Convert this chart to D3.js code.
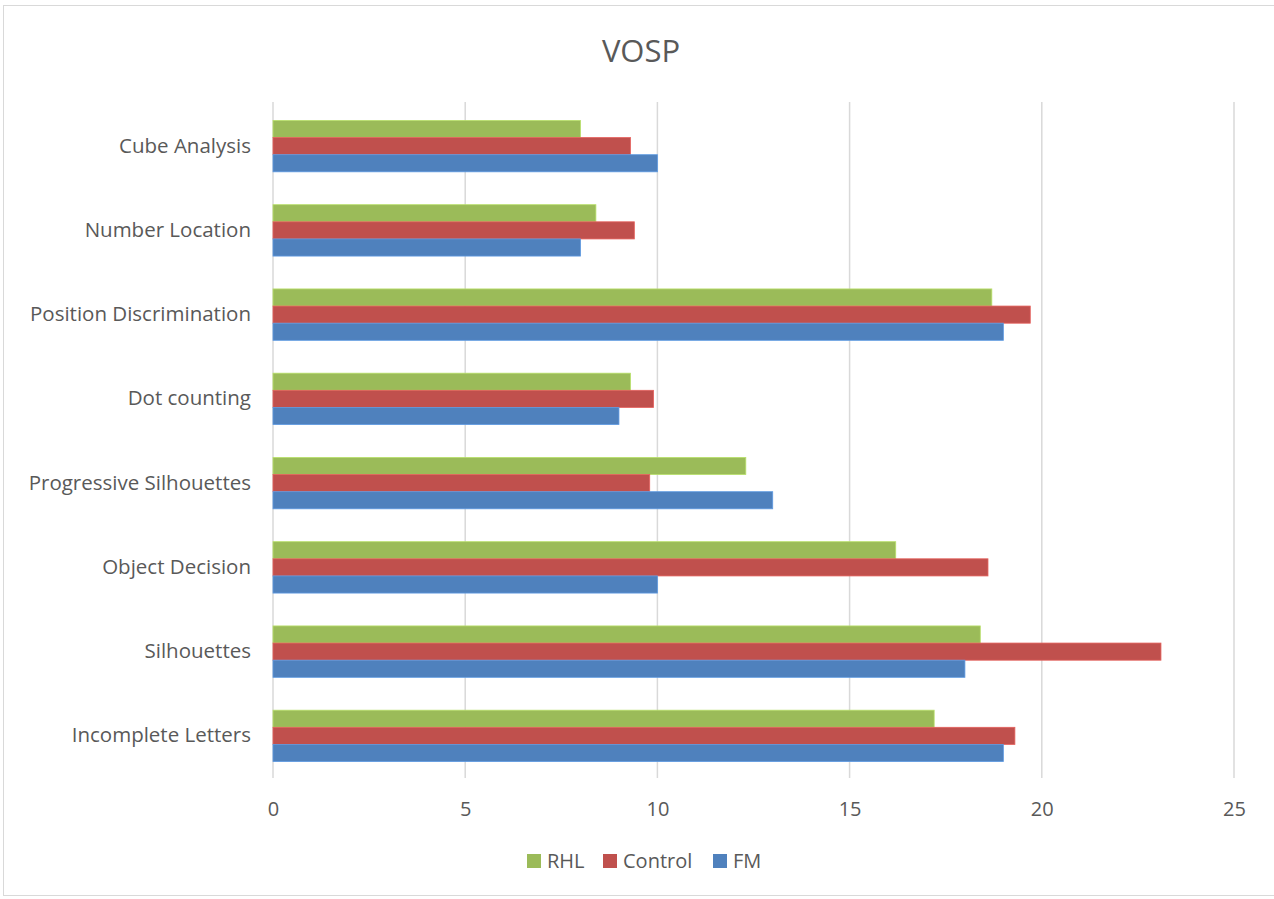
<!DOCTYPE html>
<html>
<head>
<meta charset="utf-8">
<script src="https://cdn.jsdelivr.net/npm/d3@7"></script>
<style>
  html, body { margin: 0; padding: 0; background: #fff; }
  svg text { font-family: "Open Sans", "Liberation Sans", sans-serif; fill: #595959; }
</style>
</head>
<body>
<svg id="chart" width="1274" height="899"></svg>
<script>
// VOSP subtest scores per group
const categories = [
  "Cube Analysis", "Number Location", "Position Discrimination", "Dot counting",
  "Progressive Silhouettes", "Object Decision", "Silhouettes", "Incomplete Letters"
];
const seriesNames = ["RHL", "Control", "FM"];
const rhl     = [8.0, 8.4, 18.7, 9.3, 12.3, 16.2, 18.4, 17.2];
const control = [9.3, 9.4, 19.7, 9.9, 9.8, 18.6, 23.1, 19.3];
const fm      = [10.0, 8.0, 19.0, 9.0, 13.0, 10.0, 18.0, 19.0];
const xTicks  = [0, 5, 10, 15, 20, 25];
const colors  = ["#9BBB59", "#C0504D", "#4F81BD"];

const seriesValues = [rhl, control, fm];
const svg = d3.select("#chart");

// outer chart frame
svg.append("rect")
  .attr("x", 3.5).attr("y", 5.5).attr("width", 1280).attr("height", 890)
  .attr("fill", "#fff").attr("stroke", "#d9d9d9").attr("stroke-width", 1);

const plot = { left: 273, right: 1234, top: 104, bottom: 778 };

const x = d3.scaleLinear().domain([0, 25]).range([plot.left, plot.right]);
const y = d3.scaleBand().domain(categories).range([plot.top, plot.bottom]).paddingInner(0.39).paddingOuter(0.195);
const ySub = d3.scaleBand().domain(seriesNames).range([0, y.bandwidth()]);

// title
svg.append("text")
  .attr("x", 641).attr("y", 62)
  .attr("text-anchor", "middle")
  .style("font-size", "31px")
  .text("VOSP");

// vertical gridlines
svg.append("g")
  .selectAll("line")
  .data(xTicks)
  .join("line")
  .attr("x1", d => x(d)).attr("x2", d => x(d))
  .attr("y1", plot.top - 2).attr("y2", plot.bottom)
  .attr("stroke", "#d9d9d9").attr("stroke-width", 1.5);

// bars
const groups = svg.append("g")
  .selectAll("g")
  .data(categories)
  .join("g")
  .attr("transform", d => `translate(0,${y(d)})`);

groups.selectAll("rect")
  .data((c, i) => seriesNames.map((s, j) => ({ s, v: seriesValues[j][i], color: colors[j] })))
  .join("rect")
  .attr("x", x(0))
  .attr("y", d => ySub(d.s))
  .attr("width", d => x(d.v) - x(0))
  .attr("height", ySub.bandwidth())
  .attr("fill", d => d.color)
  .attr("stroke", d => d3.color(d.color).brighter(0.5))
  .attr("stroke-width", 0.8);

// category labels
const yAxis = d3.axisLeft(y).tickSize(0).tickPadding(22);
const ya = svg.append("g").attr("transform", `translate(${plot.left},0)`).call(yAxis);
ya.select(".domain").remove();
ya.selectAll("text").style("font-size", "20.5px").attr("fill", "#595959");

// value axis labels
const xAxis = d3.axisBottom(x).tickValues(xTicks).tickSize(0).tickPadding(24);
const xa = svg.append("g").attr("transform", `translate(0,${plot.bottom})`).call(xAxis);
xa.select(".domain").remove();
xa.selectAll("text").style("font-size", "20px").attr("fill", "#595959");

// legend
const legendItems = [
  { name: "RHL", color: colors[0], x: 527 },
  { name: "Control", color: colors[1], x: 603 },
  { name: "FM", color: colors[2], x: 713 }
];
const lg = svg.append("g").selectAll("g").data(legendItems).join("g")
  .attr("transform", d => `translate(${d.x},861)`);
lg.append("rect").attr("x", 0).attr("y", -7).attr("width", 14).attr("height", 14).attr("fill", d => d.color);
lg.append("text").attr("x", 20).attr("y", 7).style("font-size", "20px").text(d => d.name);
</script>
</body>
</html>
